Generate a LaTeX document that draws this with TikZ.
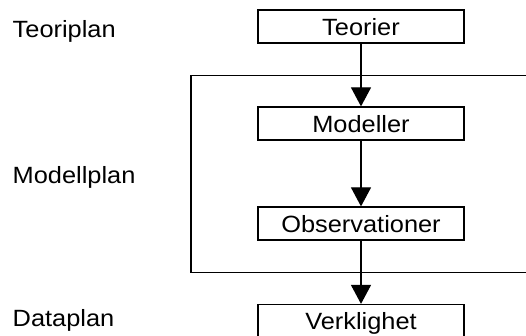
\documentclass[tikz,border=0pt]{standalone}
\usepackage{fontspec}
\setmainfont{Liberation Sans}[FakeStretch=1.08]
\usetikzlibrary{arrows.meta}
\begin{document}
\begin{tikzpicture}[x=1pt,y=1pt,
  box/.style={draw,line width=1.2pt,minimum width=206pt,minimum height=33pt,inner sep=0pt,
    text height=18pt,text depth=0pt,font=\fontsize{23.5}{26}\selectfont},
  lbl/.style={anchor=base west,inner sep=0pt,font=\fontsize{23.5}{26}\selectfont},
  conn/.style={line width=1.2pt,-{Triangle[width=20pt,length=19pt]}},
  frame/.style={line width=1.2pt}]
\clip (0,0) rectangle (526,336);
\node[box] (teo) at (361,309.5) {Teorier};
\node[box] (mod) at (361,212.5) {Modeller};
\node[box] (obs) at (361,112.5) {Observationer};
\node[box] (ver) at (361,15) {Verklighet};
\node[lbl] (lteo) at (12.5,298.7) {Teoriplan};
\node[lbl] (lmod) at (12.5,152) {Modellplan};
\node[lbl] (ldat) at (12.5,9) {Dataplan};
\coordinate (ftr) at (540,260.5);
\coordinate (fbr) at (540,63.3);
\draw[frame] (ftr) -- (191,260.5) -- (191,63.3) -- (fbr);
\draw[conn] (teo) -- (mod);
\draw[conn] (mod) -- (obs);
\draw[conn] (obs) -- (ver);
\end{tikzpicture}
\end{document}
